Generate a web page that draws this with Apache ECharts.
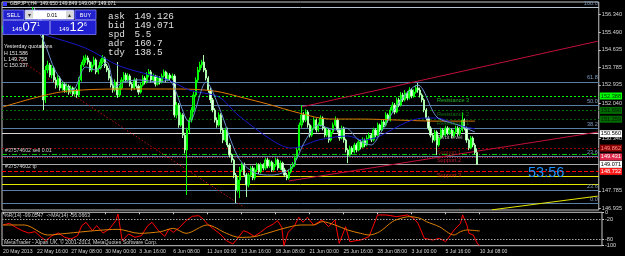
<!DOCTYPE html>
<html><head><meta charset="utf-8">
<script src="https://cdn.jsdelivr.net/npm/echarts@6/dist/echarts.min.js"></script>
<style>html,body{margin:0;padding:0;background:#000;}#c{width:625px;height:256px;}</style>
</head><body><div id="c"></div><script>
// ---------- DATA ----------
const timeLabels = ['20 May 2013','22 May 16:00','27 May 08:00','30 May 00:00','3 Jun 16:00','6 Jun 08:00','11 Jun 00:00','13 Jun 16:00','18 Jun 08:00','21 Jun 00:00','25 Jun 16:00','28 Jun 08:00','3 Jul 00:00','5 Jul 16:00','10 Jul 08:00'];
const barsBetweenLabels = 16;
const chartSlots = 282;
const priceTicks = [156.340,155.490,154.635,153.785,152.935,152.040,150.340,147.785,146.935];
const wrTicks = [0,-20,-80,-100];
const wrLevels = [-20,-80];

const opens = [155.60,155.69,155.79,155.89,155.74,155.84,155.99,155.89,155.74,155.65,
155.79,155.99,156.18,156.33,156.47,156.57,156.42,156.28,156.08,155.60,
152.20,153.65,153.90,153.41,153.75,153.17,152.92,153.26,152.78,152.97,
152.68,152.87,152.58,152.78,152.49,152.68,152.44,153.17,153.90,154.14,
154.24,154.04,153.65,153.90,154.14,153.56,153.75,154.04,154.24,153.85,
153.65,153.26,152.92,152.68,153.07,152.44,152.78,153.17,153.41,153.17,
153.36,152.97,152.78,153.17,152.87,152.58,152.92,153.26,153.07,153.41,
153.56,153.17,153.36,152.97,153.26,153.07,153.36,153.56,153.17,153.41,
153.26,153.36,151.47,151.95,150.98,151.47,150.49,149.77,150.74,151.22,
151.71,152.44,153.17,153.65,153.90,154.04,153.65,153.26,152.68,152.20,
151.71,151.22,150.98,151.47,150.74,150.25,150.74,150.01,149.52,149.28,
148.55,147.82,148.31,148.80,149.04,148.55,148.07,148.55,148.89,148.41,
148.80,149.04,148.70,149.04,148.89,149.28,148.99,149.18,148.80,149.04,
149.28,148.89,149.13,148.80,148.55,148.41,148.70,148.94,149.04,149.38,
149.77,150.98,151.47,151.22,151.61,150.98,150.49,150.83,151.22,150.74,
150.98,151.32,150.83,150.49,150.74,150.25,150.64,150.98,151.22,150.74,
150.35,150.83,150.25,149.77,149.52,149.86,149.67,150.01,149.77,150.16,
149.91,150.25,150.01,150.35,150.49,150.25,150.74,150.49,150.98,150.74,
151.13,150.98,151.47,151.22,151.71,151.95,151.61,152.20,151.95,152.44,
152.20,152.54,152.29,152.68,152.39,152.58,152.78,152.68,152.44,152.20,
151.71,151.32,150.83,150.49,150.25,150.64,150.01,150.35,150.74,150.49,
150.83,150.59,150.74,150.45,150.64,150.83,150.54,150.74,151.22,150.83,
150.25,149.86,150.35,150.01,149.65];
const closes = [155.69,155.79,155.89,155.74,155.84,155.99,155.89,155.74,155.65,155.79,
155.99,156.18,156.33,156.47,156.57,156.42,156.28,156.08,155.60,152.20,
153.65,153.90,153.41,153.75,153.17,152.92,153.26,152.78,152.97,152.68,
152.87,152.58,152.78,152.49,152.68,152.44,153.17,153.90,154.14,154.24,
154.04,153.65,153.90,154.14,153.56,153.75,154.04,154.24,153.85,153.65,
153.26,152.92,152.68,153.07,152.44,152.78,153.17,153.41,153.17,153.36,
152.97,152.78,153.17,152.87,152.58,152.92,153.26,153.07,153.41,153.56,
153.17,153.36,152.97,153.26,153.07,153.36,153.56,153.17,153.41,153.26,
153.36,151.47,151.95,150.98,151.47,150.49,149.77,150.74,151.22,151.71,
152.44,153.17,153.65,153.90,154.04,153.65,153.26,152.68,152.20,151.71,
151.22,150.98,151.47,150.74,150.25,150.74,150.01,149.52,149.28,148.55,
147.82,148.31,148.80,149.04,148.55,148.07,148.55,148.89,148.41,148.80,
149.04,148.70,149.04,148.89,149.28,148.99,149.18,148.80,149.04,149.28,
148.89,149.13,148.80,148.55,148.41,148.70,148.94,149.04,149.38,149.77,
150.98,151.47,151.22,151.61,150.98,150.49,150.83,151.22,150.74,150.98,
151.32,150.83,150.49,150.74,150.25,150.64,150.98,151.22,150.74,150.35,
150.83,150.25,149.77,149.52,149.86,149.67,150.01,149.77,150.16,149.91,
150.25,150.01,150.35,150.49,150.25,150.74,150.49,150.98,150.74,151.13,
150.98,151.47,151.22,151.71,151.95,151.61,152.20,151.95,152.44,152.20,
152.54,152.29,152.68,152.39,152.58,152.78,152.68,152.44,152.20,151.71,
151.32,150.83,150.49,150.25,150.64,150.01,150.35,150.74,150.49,150.83,
150.59,150.74,150.45,150.64,150.83,150.54,150.74,151.22,150.83,150.25,
149.86,150.35,150.01,149.65,149.07];
const lows = [155.48,155.60,155.70,155.65,155.62,155.76,155.80,155.62,155.52,155.58,
155.72,155.92,156.10,156.25,156.38,156.30,156.15,155.98,155.50,151.71,
152.05,153.50,153.30,153.25,153.05,152.75,152.80,152.65,152.65,152.55,
152.55,152.45,152.48,152.38,152.40,152.30,152.38,153.10,153.80,154.00,
153.92,153.55,153.55,153.82,153.45,153.45,153.68,153.95,153.75,153.55,
153.15,152.80,152.55,152.60,152.30,152.35,152.70,153.05,153.05,153.08,
152.85,152.65,152.70,152.75,152.45,152.50,152.85,152.95,153.00,153.30,
153.05,153.08,152.85,152.90,152.95,153.00,153.28,153.05,153.10,153.15,
153.18,151.35,151.30,150.85,150.90,150.35,149.60,147.58,150.60,151.10,
151.60,152.35,153.05,153.55,153.75,153.55,153.15,152.55,152.05,151.60,
151.10,150.85,150.90,150.60,150.10,150.15,149.90,149.40,149.15,148.40,
147.19,147.70,147.43,148.70,148.45,147.48,147.95,148.45,148.30,148.30,
148.70,148.60,148.62,148.78,148.80,148.88,148.90,148.70,148.72,148.95,
148.78,148.80,148.70,148.45,148.30,148.32,148.62,148.85,148.95,149.30,
149.70,150.85,151.10,151.12,150.85,150.38,150.40,150.75,150.62,150.65,
150.90,150.72,150.38,150.40,150.12,150.18,150.55,150.90,150.62,150.22,
150.28,150.12,149.65,149.13,149.45,149.55,149.60,149.65,149.70,149.80,
149.85,149.90,149.95,150.25,150.15,150.18,150.38,150.42,150.62,150.68,
150.88,150.90,151.10,151.15,151.62,151.50,151.55,151.85,151.88,152.10,
152.12,152.18,152.22,152.28,152.30,152.50,152.55,152.32,152.08,151.60,
151.20,150.72,150.38,150.12,150.18,149.52,149.92,150.28,150.38,150.42,
150.48,150.50,150.35,150.38,150.55,150.42,150.45,150.65,150.72,150.12,
149.76,149.80,149.90,149.55,149.05];
const highs = [155.80,155.92,156.01,155.98,155.95,156.10,156.08,155.95,155.82,155.90,
156.10,156.28,156.45,156.58,156.71,156.65,156.50,156.35,156.15,155.69,
153.85,154.10,154.00,153.90,153.85,153.30,153.40,153.35,153.10,153.05,
153.00,152.95,152.90,152.85,152.80,152.75,153.30,154.05,154.35,154.40,
154.35,154.12,154.05,154.30,154.22,153.88,154.18,154.38,154.30,153.95,
153.75,153.35,153.00,153.20,154.04,152.90,153.30,153.55,153.52,153.50,
153.45,153.05,153.28,153.25,152.95,153.05,153.40,153.35,153.55,153.70,
153.65,153.48,153.42,153.38,153.35,153.48,153.68,153.62,153.52,153.50,
153.48,153.45,152.10,152.05,151.60,151.55,150.60,150.85,151.35,151.85,
152.60,153.30,153.80,154.05,154.15,154.38,153.75,153.35,152.80,152.30,
151.80,151.35,151.60,151.55,150.85,150.85,150.85,150.10,149.60,149.35,
148.65,148.45,148.95,149.15,149.15,148.65,148.65,149.00,149.00,148.92,
149.15,149.12,149.15,149.12,149.40,149.38,149.30,149.25,149.15,149.40,
149.35,149.25,149.20,148.90,148.65,148.82,149.05,149.18,149.50,149.90,
151.10,151.95,151.60,151.75,151.70,151.05,150.95,151.35,151.30,151.10,
151.45,151.40,150.92,150.85,150.82,150.75,151.10,151.40,151.30,150.82,
150.95,150.90,150.32,149.85,149.98,149.95,150.12,150.10,150.28,150.25,
150.38,150.32,150.48,150.62,150.58,150.85,150.82,151.10,151.05,151.25,
151.22,151.60,151.55,151.85,152.10,152.05,152.32,152.30,152.58,152.55,
152.68,152.62,152.82,152.78,152.72,152.92,153.02,152.80,152.52,152.28,
151.80,151.40,150.92,150.58,150.75,150.72,150.48,150.85,150.82,150.95,
150.92,150.86,150.82,150.75,150.95,150.92,150.88,151.59,151.30,150.90,
150.32,150.45,150.43,150.10,149.85];

// moving averages as [bar index, price]
const maFast = [[12,156.20],[19,155.11],[25,153.56],[33,152.68],[39,153.80],[44,153.65],[49,154.04],[53,152.83],[57,153.07],[64,153.17],[74,153.07],[78,153.17],[88,151.13],[96,153.07],[102,151.86],[111,149.43],[119,148.65],[127,148.55],[136,148.89],[143,150.25],[149,150.98],[157,150.74],[162,150.83],[168,150.25],[174,150.01],[177,150.35],[187,152.05],[196,152.92],[205,151.37],[215,150.98],[223,150.64]];
const maSlow = [[8,155.80],[20,155.35],[39,154.72],[55,153.85],[78,153.17],[88,152.68],[102,152.34],[111,151.47],[127,150.25],[136,149.86],[140,149.91],[149,150.25],[163,150.45],[170,150.25],[177,150.40],[191,151.13],[199,151.32],[205,151.32],[215,150.98],[223,150.79]];
const maLong = [[0,151.86],[27,152.58],[57,152.73],[83,152.73],[100,152.63],[114,152.29],[125,152.00],[140,151.56],[154,151.27],[170,151.27],[187,151.22],[205,151.17],[223,151.17]];

// trend lines [bar index, price]
const trendUpper = [[141,151.856],[281,155.053]];
const trendLower = [[135,148.261],[281,150.637]];
const trendDotted = [[6,154.26],[114,146.98]];
const trendYellow = [[231,146.86],[281,147.527]];

// pivot levels (Fibonacci pivots from yesterday H/L/C)
const pivotNames = ['Resistance 3','Resistance 2','Resistance 1','Pivot level','Support 1','Support 2','Support 3'];
const pivotPrices = [152.388,151.690,151.259,150.560,149.862,149.431,148.732];
const fibNames = ['100.0','61.8','50.0','38.2','23.6','0.0'];
const fibPrices = [156.714,153.077,151.953,150.829,149.439,147.192];
const extraLevelNames = ['23.6'];
const extraLevelPrices = [147.82];
const yellowLevels = [148.50,148.12];
const bidPrice = 149.071;
const sellPrice = 149.56;

// Williams %R and its MA, [bar index, value]
const wrValues = [[0,-38],[3,-33],[6,-45],[9,-55],[12,-62],[15,-58],[18,-75],[20,-85],[23,-70],[26,-62],[29,-75],[32,-80],[35,-70],[37,-40],[39,-30],[42,-55],[44,-40],[47,-62],[50,-50],[53,-25],[54,-5],[56,-85],[59,-65],[62,-75],[65,-70],[68,-40],[70,-30],[73,-55],[76,-72],[78,-50],[80,-60],[83,-45],[86,-25],[89,-12],[92,-10],[94,-20],[96,-35],[99,-50],[102,-65],[105,-85],[108,-95],[110,-80],[113,-55],[115,-60],[118,-72],[121,-60],[124,-45],[127,-35],[129,-25],[131,-45],[132,-100],[134,-60],[137,-40],[139,-15],[141,-30],[143,-15],[146,-38],[150,-23],[153,-43],[156,-23],[158,-93],[161,-43],[163,-88],[168,-83],[172,-73],[176,-8],[180,-8],[185,-13],[190,-8],[193,-18],[195,-33],[198,-78],[202,-83],[205,-78],[208,-88],[212,-53],[215,-33],[216,-8],[218,-38],[219,-63],[221,-68],[223,-95],[224,-99.05]];
const wrMA = [[0,-38],[10,-38],[21,-68],[30,-63],[43,-55],[54,-51],[64,-63],[74,-58],[80,-48],[86,-63],[96,-38],[105,-63],[111,-75],[118,-73],[124,-63],[132,-48],[140,-38],[146,-38],[150,-28],[156,-38],[162,-53],[168,-63],[172,-68],[177,-58],[183,-28],[187,-18],[191,-13],[196,-18],[199,-28],[205,-43],[212,-68],[215,-58],[218,-53],[224,-56.07]];

// ---------- BUILD ----------
const categories = [];
for (let i = 0; i < chartSlots; i++) {
  const k = i / barsBetweenLabels;
  categories.push(Number.isInteger(k) && k < timeLabels.length ? timeLabels[k] : '');
}
const candles = opens.map((o, k) => [o, closes[k], lows[k], highs[k]]);
const F = 'Liberation Sans';

function box(v, text, bg, fg, line) {
  return { yAxis: v, lineStyle: line,
    label: { show: true, position: 'end', distance: 1, formatter: text, backgroundColor: bg, color: fg,
      fontSize: 5.6, fontFamily: F, padding: [1, 1, 0, 1] } };
}
function plain(v, line) { return { yAxis: v, lineStyle: line, label: { show: false } }; }
function fib(v, text, line) {
  return { yAxis: v, lineStyle: line, label: { show: true, position: 'insideEndTop', distance: 1, formatter: text,
    color: '#7d9cc0', fontSize: 5.6, fontFamily: F } };
}
const pivotLine = [
  { color: '#00ff00', type: [2, 2], width: 1 },
  { color: '#007000', type: [2, 2], width: 1 },
  { color: '#005800', type: [2, 2], width: 1 },
  { color: '#d8d8d8', type: 'solid', width: 1 },
  { color: '#9a0000', type: [2, 2], width: 1 },
  { color: '#e0284a', type: [1, 1.5], width: 1 },
  { color: '#ff0000', type: [4, 2], width: 1 }
];
const pivotBox = [['#00ff00', '#003000'], ['#006a00', '#001a00'], ['#006a00', '#001a00'], ['#ffffff', '#000'],
  ['#8b0000', '#ff9090'], ['#e0284a', '#fff'], ['#ff1a1a', '#fff']];
const pivotText = ['#33dd33', '#1a8a1a', '#1a8a1a', '#dddddd', '#b01818', '#e02040', '#ff2020'];

const levelData = [];
fibPrices.forEach((p, k) => levelData.push(fib(p, fibNames[k], { color: k === 0 ? '#b8c4d2' : '#5b80a8', type: 'solid', width: 1 })));
extraLevelPrices.forEach((p, k) => levelData.push(fib(p, extraLevelNames[k], { color: '#5b80a8', type: 'solid', width: 1 })));
yellowLevels.forEach(p => levelData.push(plain(p, { color: '#e6e600', type: 'solid', width: 1 })));
pivotPrices.forEach((p, k) => levelData.push(box(p, p.toFixed(3), pivotBox[k][0], pivotBox[k][1], pivotLine[k])));
levelData.push(plain(sellPrice, { color: '#00c800', type: [5, 2, 1, 2], width: 1 }));
levelData.push(box(bidPrice, bidPrice.toFixed(3), '#ffffff', '#000', { color: '#a8a8a8', type: 'solid', width: 1 }));

function trend(data, color, type, z) {
  return { type: 'line', data: data, xAxisIndex: 0, yAxisIndex: 0, symbol: 'none', silent: true, clip: true,
    lineStyle: { color: color, width: 1, type: type }, z: z || 3, animation: false };
}

const chart = echarts.init(document.getElementById('c'), null, { renderer: 'canvas' });
const option = {
  backgroundColor: '#000000',
  animation: false,
  textStyle: { fontFamily: F },
  grid: [
    { left: 2, right: 23, top: 2, height: 208, show: true, borderColor: '#c8c8c8', borderWidth: 1, backgroundColor: 'transparent' },
    { left: 2, right: 23, top: 212.3, height: 33.4, show: true, borderColor: '#c8c8c8', borderWidth: 1, backgroundColor: 'transparent' }
  ],
  xAxis: [
    { type: 'category', gridIndex: 0, data: categories, boundaryGap: true, axisLine: { show: false }, axisTick: { show: false }, axisLabel: { show: false }, splitLine: { show: false } },
    { type: 'category', gridIndex: 1, data: categories, boundaryGap: true,
      axisLine: { show: false },
      axisTick: { show: true, alignWithLabel: true, interval: (i, v) => v !== '', length: 2, lineStyle: { color: '#c8c8c8' } },
      axisLabel: { show: true, interval: (i, v) => v !== '', showMinLabel: true, showMaxLabel: true, hideOverlap: false, align: 'left', margin: 3, color: '#d4d4d4', fontSize: 5.1, fontFamily: F },
      splitLine: { show: false } }
  ],
  yAxis: [
    { type: 'value', gridIndex: 0, position: 'right', min: 146.852, max: 156.957, scale: true,
      splitLine: { show: false }, axisLine: { show: false },
      axisTick: { show: true, customValues: priceTicks, length: 2, lineStyle: { color: '#c8c8c8' } },
      axisLabel: { show: true, customValues: priceTicks, formatter: v => v.toFixed(3), margin: 3, color: '#d4d4d4', fontSize: 5.6, fontFamily: F } },
    { type: 'value', gridIndex: 1, position: 'right', min: -100, max: 0,
      splitLine: { show: false }, axisLine: { show: false },
      axisTick: { show: true, customValues: wrTicks, length: 2, lineStyle: { color: '#c8c8c8' } },
      axisLabel: { show: true, customValues: wrTicks, showMinLabel: true, showMaxLabel: true, formatter: v => String(v), margin: 3, color: '#d4d4d4', fontSize: 5.6, fontFamily: F } }
  ],
  series: [
    { type: 'candlestick', name: 'GBPJPY,H4', xAxisIndex: 0, yAxisIndex: 0, data: candles, barWidth: 1.7, z: 4,
      itemStyle: { color: '#00b400', color0: '#f0fff0', borderColor: '#00ff00', borderColor0: '#b0ffb0', borderWidth: 1 },
      markLine: { silent: true, symbol: ['none', 'none'], animation: false, z: 2, data: levelData } },
    trend(trendUpper, '#c0103a', 'solid'),
    trend(trendLower, '#c0103a', 'solid'),
    trend(trendDotted, '#c01010', [1.5, 2]),
    trend(trendYellow, '#e6e600', 'solid'),
    { type: 'line', data: maLong, symbol: 'none', smooth: 0.3, lineStyle: { color: '#e07a00', width: 1 }, z: 5, silent: true },
    { type: 'line', data: maSlow, symbol: 'none', smooth: 0.3, lineStyle: { color: '#1818c8', width: 1 }, z: 5, silent: true },
    { type: 'line', data: maFast, symbol: 'none', smooth: 0.3, lineStyle: { color: '#6c8fd0', width: 1 }, z: 5, silent: true },
    { type: 'scatter', symbolSize: 0, z: 6, silent: true,
      data: pivotNames.map((n, k) => ({ value: [205, pivotPrices[k]],
        label: { show: true, formatter: n, position: [0, 1], color: pivotText[k], fontSize: 5.6, fontFamily: F } })) },
    { type: 'line', xAxisIndex: 1, yAxisIndex: 1, data: wrValues, symbol: 'none', lineStyle: { color: '#ff0000', width: 1 }, z: 4, silent: true,
      markLine: { silent: true, symbol: ['none', 'none'], label: { show: false }, lineStyle: { color: '#a8a8a8', type: [1.5, 1.5], width: 1 },
        data: wrLevels.map(v => ({ yAxis: v })) } },
    { type: 'line', xAxisIndex: 1, yAxisIndex: 1, data: wrMA, symbol: 'none', smooth: 0.3, lineStyle: { color: '#e08000', width: 1 }, z: 5, silent: true }
  ],
  graphic: [
    { type: 'text', left: 10, top: 1.5, z: 100, style: { text: 'GBPJPY,H4  149.650 149.849 149.047 149.071', fill: '#e8e8e8', font: '5px ' + F } },
    { type: 'rect', z: 100, shape: { x: 3, y: 2, width: 4, height: 4 }, style: { fill: '#3a3aff' } },
    // trade panel
    { type: 'rect', z: 100, shape: { x: 3, y: 10, width: 21, height: 9.5 }, style: { fill: '#2222cc', stroke: '#7a7aff', lineWidth: 0.8 } },
    { type: 'text', z: 101, style: { text: 'SELL', x: 13.5, y: 15, fill: '#ffffff', font: '5.5px ' + F, align: 'center', verticalAlign: 'middle' } },
    { type: 'rect', z: 100, shape: { x: 25, y: 10, width: 49, height: 9.5 }, style: { fill: '#ffffff', stroke: '#8080ff', lineWidth: 0.8 } },
    { type: 'rect', z: 101, shape: { x: 26, y: 11, width: 7, height: 7.5 }, style: { fill: '#d8d8d8' } },
    { type: 'rect', z: 101, shape: { x: 66, y: 11, width: 7, height: 7.5 }, style: { fill: '#d8d8d8' } },
    { type: 'text', z: 102, style: { text: '▾', x: 29.5, y: 15, fill: '#333', font: '6px ' + F, align: 'center', verticalAlign: 'middle' } },
    { type: 'text', z: 102, style: { text: '▴', x: 69.5, y: 15, fill: '#333', font: '6px ' + F, align: 'center', verticalAlign: 'middle' } },
    { type: 'text', z: 101, style: { text: '0.01', x: 52, y: 15, fill: '#000000', font: '5.5px ' + F, align: 'center', verticalAlign: 'middle' } },
    { type: 'rect', z: 100, shape: { x: 75, y: 10, width: 21, height: 9.5 }, style: { fill: '#2222cc', stroke: '#7a7aff', lineWidth: 0.8 } },
    { type: 'text', z: 101, style: { text: 'BUY', x: 85.5, y: 15, fill: '#ffffff', font: '5.5px ' + F, align: 'center', verticalAlign: 'middle' } },
    { type: 'rect', z: 100, shape: { x: 3, y: 20.5, width: 46.5, height: 14 }, style: { fill: '#2020d0', stroke: '#7a7aff', lineWidth: 0.8 } },
    { type: 'rect', z: 100, shape: { x: 50.5, y: 20.5, width: 45.5, height: 14 }, style: { fill: '#2020d0', stroke: '#7a7aff', lineWidth: 0.8 } },
    { type: 'text', z: 101, style: { text: '149', x: 12, y: 32.5, fill: '#ffffff', font: '6px ' + F, verticalAlign: 'bottom' } },
    { type: 'text', z: 101, style: { text: '07', x: 22.5, y: 34, fill: '#ffffff', font: '13px ' + F, verticalAlign: 'bottom' } },
    { type: 'text', z: 101, style: { text: '1', x: 37, y: 22.5, fill: '#ffffff', font: '5px ' + F, verticalAlign: 'top' } },
    { type: 'text', z: 101, style: { text: '149', x: 59, y: 32.5, fill: '#ffffff', font: '6px ' + F, verticalAlign: 'bottom' } },
    { type: 'text', z: 101, style: { text: '12', x: 69.5, y: 34, fill: '#ffffff', font: '13px ' + F, verticalAlign: 'bottom' } },
    { type: 'text', z: 101, style: { text: '6', x: 84, y: 22.5, fill: '#ffffff', font: '5px ' + F, verticalAlign: 'top' } },
    // info block
    { type: 'text', z: 100, style: { text: 'ask\nbid\nspd\nadr\ntdy', x: 108, y: 12, fill: '#e0e0e0', font: '9.4px Liberation Mono', lineHeight: 9 } },
    { type: 'text', z: 100, style: { text: '149.126\n149.071\n5.5\n160.7\n138.5', x: 134.5, y: 12, fill: '#e0e0e0', font: '9.4px Liberation Mono', lineHeight: 9 } },
    { type: 'text', z: 100, style: { text: 'Yesterday quotations\nH 151.586\nL 149.758\nC 150.337', x: 4, y: 43.5, fill: '#e8e8e8', font: '5.2px ' + F, lineHeight: 6.4 } },
    { type: 'text', z: 100, style: { text: '#37574602 sell 0.01', x: 5, y: 148, fill: '#d0d0d0', font: '5.2px ' + F } },
    { type: 'text', z: 100, style: { text: '#37574602 tp', x: 5, y: 164.5, fill: '#d0d0d0', font: '5.2px ' + F } },
    { type: 'text', z: 100, style: { text: '53:56', x: 528, y: 165.5, fill: '#1e90ff', font: '14.5px ' + F } },
    { type: 'text', z: 100, style: { text: '%R(14) -99.0547  ->MA(14) -56.0663', x: 4, y: 213, fill: '#d0d0d0', font: '5.2px ' + F } },
    { type: 'text', z: 100, style: { text: 'MetaTrader - Alpari UK, © 2001-2013, MetaQuotes Software Corp.', x: 4, y: 240, fill: '#d0d0d0', font: '5.2px ' + F } }
  ]
};
chart.setOption(option);
</script></body></html>
